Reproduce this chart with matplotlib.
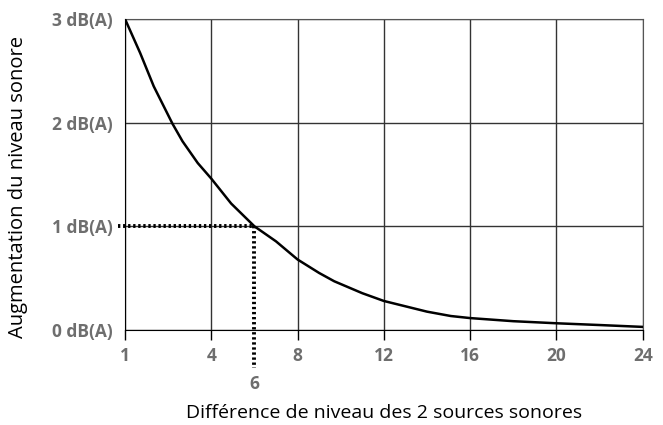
import matplotlib.pyplot as plt
import numpy as np

# x tick values (equally spaced on the chart) and y labels
x_ticks = [1, 4, 8, 12, 16, 20, 24]
y_ticks = [0, 1, 2, 3]
y_labels = ['0 dB(A)', '1 dB(A)', '2 dB(A)', '3 dB(A)']

# level difference (dB) -> increase of the total level (dB(A))
diff = [1, 1.53, 2.0, 2.65, 3.0, 3.53, 4, 4.92, 6, 7, 8, 9, 9.7, 11, 12, 14, 15.1, 16, 18, 20, 22, 24]
increase = [3.0, 2.67, 2.35, 1.99, 1.82, 1.61, 1.46, 1.22, 1.0, 0.855, 0.68, 0.55, 0.47, 0.355, 0.28,
            0.177, 0.135, 0.115, 0.085, 0.065, 0.048, 0.03]

# marked example: 6 dB difference -> 1 dB(A)
mark_x = 6
mark_y = 1

tick_col = '#6e6e6e'
plt.rcParams['font.family'] = ['Open Sans', 'DejaVu Sans']

# position on the chart: ticks are equally spaced
positions = np.arange(len(x_ticks))
def to_pos(v):
    return np.interp(v, x_ticks, positions)

fig = plt.figure(figsize=(6.63, 4.25), dpi=100)
ax = fig.add_axes([0.1885, 0.2235, 0.781, 0.732])

ax.plot(to_pos(diff), increase, color='black', lw=1.8, zorder=3)

# dotted guide lines
mp = to_pos(mark_x)
ax.plot([-0.08, mp], [mark_y, mark_y], color='black', lw=2.8, ls=(0, (0.6, 0.7)), clip_on=False, zorder=4)
ax.plot([mp, mp], [mark_y, -0.37], color='black', lw=2.8, ls=(0, (0.6, 0.7)), clip_on=False, zorder=4)
ax.text(mp, -0.52, str(mark_x), ha='center', va='center', color=tick_col, fontsize=12.5, fontweight='bold')

ax.set_xlim(0, len(x_ticks) - 1)
ax.set_ylim(0, 3)
ax.set_xticks(positions)
ax.set_xticklabels([str(v) for v in x_ticks])
ax.set_yticks(y_ticks)
ax.set_yticklabels(y_labels)
ax.tick_params(axis='x', length=7, width=1, color='black', pad=5, labelcolor=tick_col, labelsize=12.5)
ax.tick_params(axis='y', length=0, pad=9, labelcolor=tick_col, labelsize=12.5)
for lab in ax.get_xticklabels() + ax.get_yticklabels():
    lab.set_fontweight('bold')

ax.grid(True, color='#333333', lw=1)
ax.spines['left'].set_color('black')
ax.spines['bottom'].set_color('black')
ax.spines['top'].set_color('#555555')
ax.spines['right'].set_color('#555555')

ax.set_xlabel('Différence de niveau des 2 sources sonores', fontsize=14, labelpad=28)
ax.set_ylabel('Augmentation du niveau sonore', fontsize=14.5)
ax.yaxis.set_label_coords(-0.187, 0.46)

fig.savefig('out.png', dpi=100)
